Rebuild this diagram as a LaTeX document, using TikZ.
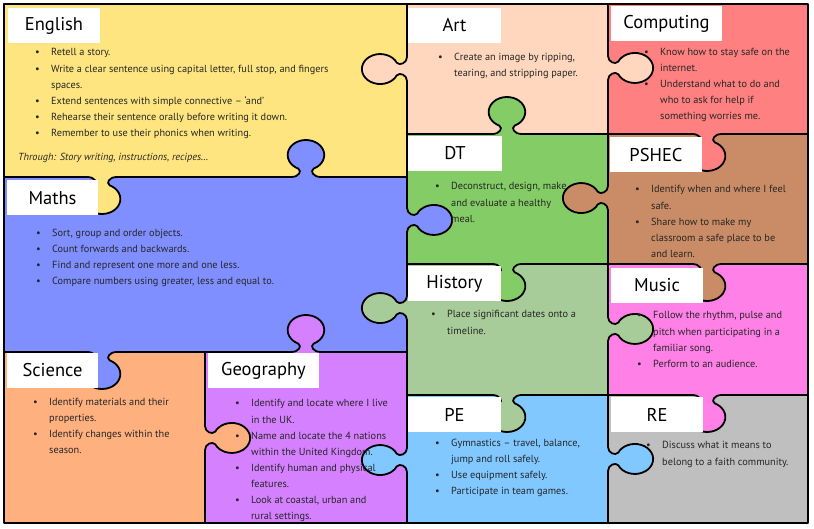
\documentclass[tikz,border=0pt]{standalone}
\usepackage{fontspec}
\setmainfont{PT Sans}
\usepackage{tikz}
\usetikzlibrary{positioning}

\definecolor{english}{RGB}{255,229,127}
\definecolor{art}{RGB}{255,215,190}
\definecolor{computing}{RGB}{255,128,128}
\definecolor{dt}{RGB}{132,204,102}
\definecolor{pshec}{RGB}{201,140,102}
\definecolor{maths}{RGB}{127,143,255}
\definecolor{history}{RGB}{168,204,153}
\definecolor{music}{RGB}{255,128,230}
\definecolor{science}{RGB}{255,176,127}
\definecolor{geography}{RGB}{213,128,255}
\definecolor{pe}{RGB}{128,200,255}
\definecolor{re}{RGB}{191,191,191}

\newcommand{\bulletmark}{\makebox[16pt][l]{\textbullet}}
\newcommand{\contline}{\hspace*{16pt}}
\newcommand{\puzzletab}[4]{%
\begin{scope}[shift={(#1,-#2)},xscale=1.22,rotate=#3]
\fill[#4] (-3,-12) -- (0,-12) .. controls (0,-6) and (6,-3) .. (8.4,-6.3) arc (205:515:15) .. controls (6,3) and (0,6) .. (0,12) -- (-3,12) -- cycle;
\draw[piece] (0,-12) .. controls (0,-6) and (6,-3) .. (8.4,-6.3) arc (205:515:15) .. controls (6,3) and (0,6) .. (0,12);
\end{scope}}

\begin{document}
\begin{tikzpicture}[x=1pt,y=1pt,line cap=round,line join=round,
  piece/.style={line width=1.8pt},
  titlebox/.style={fill=white,inner sep=0pt,minimum height=35pt,font=\fontsize{18.5}{22}\selectfont},
  topics/.style={anchor=north west,inner sep=0pt,align=left,font=\fontsize{10.3}{16.1}\selectfont,text=black!85}]
\useasboundingbox (0,0) rectangle (814,-529);
\fill[english] (4,-4) rectangle (407,-177);
\fill[maths] (4,-177) rectangle (407,-352);
\fill[science] (4,-352) rectangle (205,-523);
\fill[geography] (205,-352) rectangle (407,-523);
\fill[art] (407,-4) rectangle (608,-134);
\fill[computing] (608,-4) rectangle (808,-134);
\fill[dt] (407,-134) rectangle (608,-264);
\fill[pshec] (608,-134) rectangle (808,-264);
\fill[history] (407,-264) rectangle (608,-395);
\fill[music] (608,-264) rectangle (808,-395);
\fill[pe] (407,-395) rectangle (608,-523);
\fill[re] (608,-395) rectangle (808,-523);
\draw[piece] (4,-4) rectangle (808,-523);
\draw[piece] (407,-4) -- (407,-523);
\draw[piece] (608,-4) -- (608,-523);
\draw[piece] (4,-177) -- (407,-177);
\draw[piece] (4,-352) -- (407,-352);
\draw[piece] (205,-352) -- (205,-523);
\draw[piece] (407,-134) -- (808,-134);
\draw[piece] (407,-264) -- (808,-264);
\draw[piece] (407,-395) -- (808,-395);
\puzzletab{407}{69}{180}{art}
\puzzletab{608}{68}{0}{art}
\puzzletab{407}{220}{0}{maths}
\puzzletab{608}{198}{180}{pshec}
\puzzletab{407}{308}{180}{history}
\puzzletab{608}{329}{0}{history}
\puzzletab{407}{460}{180}{pe}
\puzzletab{608}{459}{0}{pe}
\puzzletab{205}{438}{0}{science}
\puzzletab{306}{177}{90}{maths}
\puzzletab{102}{177}{270}{english}
\puzzletab{507}{134}{90}{dt}
\puzzletab{707}{134}{270}{computing}
\puzzletab{507}{264}{270}{dt}
\puzzletab{707}{264}{270}{pshec}
\puzzletab{507}{395}{270}{history}
\puzzletab{707}{395}{270}{music}
\puzzletab{102}{352}{270}{maths}
\puzzletab{306}{352}{90}{geography}
\node[titlebox,minimum width=92pt] (english) at (54,-25.5) {English};
\node[titlebox,minimum width=93pt] (art) at (454.5,-25.5) {Art};
\node[titlebox,minimum width=111pt] (computing) at (666.5,-23.5) {Computing};
\node[titlebox,minimum width=94pt] (dt) at (455,-153.5) {DT};
\node[titlebox,minimum width=92pt] (pshec) at (656,-155) {PSHEC};
\node[titlebox,minimum width=91pt] (maths) at (52.5,-198) {Maths};
\node[titlebox,minimum width=93pt] (history) at (454.5,-284) {History};
\node[titlebox,minimum width=92pt] (music) at (657,-285.5) {Music};
\node[titlebox,minimum width=91pt] (science) at (52.5,-370.5) {Science};
\node[titlebox,minimum width=111pt] (geography) at (263.5,-370.5) {Geography};
\node[titlebox,minimum width=93pt] (pe) at (454.5,-414.5) {PE};
\node[titlebox,minimum width=92pt] (re) at (657,-414.5) {RE};
\node[topics] (englishlist) at (35,-48.5) {\bulletmark Retell a story.\\
\bulletmark Write a clear sentence using capital letter, full stop, and fingers\\
\contline spaces.\\
\bulletmark Extend sentences with simple connective -- ‘and’\\
\bulletmark Rehearse their sentence orally before writing it down.\\
\bulletmark Remember to use their phonics when writing.};
\node[topics] (through) at (18,-153) {\itshape Through: Story writing, instructions, recipes\dots};
\node[topics] (artlist) at (438,-52.5) {\bulletmark Create an image by ripping,\\
\contline tearing, and stripping paper.};
\node[topics] (computinglist) at (644,-48) {\bulletmark Know how to stay safe on the\\
\contline internet.\\
\bulletmark Understand what to do and\\
\contline who to ask for help if\\
\contline something worries me.};
\node[topics] (dtlist) at (435,-182.5) {\bulletmark Deconstruct, design, make\\
\contline and evaluate a healthy\\
\contline meal.};
\node[topics] (pshelist) at (635,-185.5) {\bulletmark Identify when and where I feel\\
\contline safe.\\
\bulletmark Share how to make my\\
\contline classroom a safe place to be\\
\contline and learn.};
\node[topics] (mathslist) at (36,-228.5) {\bulletmark Sort, group and order objects.\\
\bulletmark Count forwards and backwards.\\
\bulletmark Find and represent one more and one less.\\
\bulletmark Compare numbers using greater, less and equal to.};
\node[topics] (historylist) at (431,-310.5) {\bulletmark Place significant dates onto a\\
\contline timeline.};
\node[topics] (musiclist) at (637,-311.5) {\bulletmark Follow the rhythm, pulse and\\
\contline pitch when participating in a\\
\contline familiar song.\\
\bulletmark Perform to an audience.};
\node[topics] (sciencelist) at (33,-398) {\bulletmark Identify materials and their\\
\contline properties.\\
\bulletmark Identify changes within the\\
\contline season.};
\node[topics] (geographylist) at (235,-399.5) {\bulletmark Identify and locate where I live\\
\contline in the UK.\\
\bulletmark Name and locate the 4 nations\\
\contline within the United Kingdom.\\
\bulletmark Identify human and physical\\
\contline features.\\
\bulletmark Look at coastal, urban and\\
\contline rural settings.};
\node[topics] (pelist) at (435,-438.5) {\bulletmark Gymnastics -- travel, balance,\\
\contline jump and roll safely.\\
\bulletmark Use equipment safely.\\
\bulletmark Participate in team games.};
\node[topics] (relist) at (646,-441.5) {\bulletmark Discuss what it means to\\
\contline belong to a faith community.};
\end{tikzpicture}
\end{document}
